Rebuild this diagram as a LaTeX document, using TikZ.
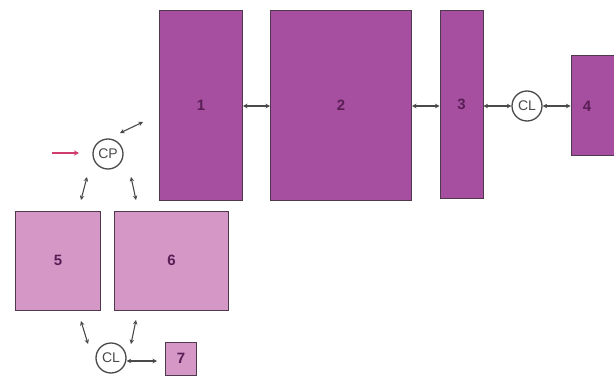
\documentclass[tikz,border=0pt]{standalone}
\usepackage{fontspec}
\setmainfont{Liberation Sans}
\usetikzlibrary{arrows.meta}
\definecolor{darkbox}{HTML}{A64FA0}
\definecolor{lightbox}{HTML}{D497C6}
\definecolor{boxline}{HTML}{4E3A4C}
\definecolor{numtext}{HTML}{5A1E56}
\definecolor{arrowc}{HTML}{4A4A4A}
\definecolor{redarrow}{HTML}{D23C6C}
\tikzset{
  dbox/.style={draw=boxline, line width=1pt, fill=darkbox, inner sep=0pt, text=numtext, font=\fontsize{15}{17}\selectfont\bfseries},
  lbox/.style={draw=boxline, line width=1pt, fill=lightbox, inner sep=0pt, text=numtext, font=\fontsize{15}{17}\selectfont\bfseries},
  circ/.style={circle, draw=arrowc, line width=1.3pt, fill=white, minimum size=30pt, inner sep=0pt, text=arrowc, font=\fontsize{14}{16}\selectfont},
  link/.style={draw=arrowc, line width=1.1pt, {Stealth[length=4.5pt,width=4.5pt]}-{Stealth[length=4.5pt,width=4.5pt]}},
}
\begin{document}
\begin{tikzpicture}[x=1pt,y=-1pt]
\clip (0,0) rectangle (614,380);
\fill[white] (0,0) rectangle (614,380);
% top row
\node[dbox, minimum width=83pt, minimum height=190pt] (b1) at (201,105) {1};
\node[dbox, minimum width=141pt, minimum height=190pt] (b2) at (341,105) {2};
\node[dbox, minimum width=43pt, minimum height=188pt] (b3) at (461.5,104) {\raisebox{-2pt}{3}};
\node[circ] (clr) at (527,106) {CL};
\node[dbox, minimum width=60pt, minimum height=100pt] (b4) at (601,105) {};
\node[text=numtext, font=\fontsize{15}{17}\selectfont\bfseries] (t4) at (587,106) {4};
% left group
\node[circ] (cp) at (108,154) {CP};
\node[lbox, minimum width=85pt, minimum height=99pt] (b5) at (58,260.5) {5};
\node[lbox, minimum width=114pt, minimum height=99pt] (b6) at (171.5,260.5) {6};
\node[circ] (clb) at (111,358) {CL};
\node[lbox, minimum width=31pt, minimum height=33pt] (b7) at (181,358.5) {7};
% connector end points
\coordinate (r0) at (52,153);
\coordinate (r1) at (79,153);
\coordinate (a1) at (120,133);
\coordinate (a2) at (143,122);
\coordinate (c1) at (87,177);
\coordinate (c2) at (81,200);
\coordinate (d1) at (131,177);
\coordinate (d2) at (136,200);
\coordinate (e1) at (81,321);
\coordinate (e2) at (88,344);
\coordinate (f1) at (136,320);
\coordinate (f2) at (131,344);
\coordinate (g2) at (157,361);
% connectors
\draw[link] (b1.east |- 0,106) -- (b2.west |- 0,106);
\draw[link] (b2.east |- 0,106) -- (b3.west |- 0,106);
\draw[link] (b3.east |- clr) -- (clr);
\draw[link] (clr) -- (b4.west |- clr);
\draw[draw=redarrow, line width=1.1pt, -{Stealth[length=5pt,width=5pt]}] (r0) -- (r1);
\draw[link] (a1) -- (a2);
\draw[link] (c1) -- (c2);
\draw[link] (d1) -- (d2);
\draw[link] (e1) -- (e2);
\draw[link] (f1) -- (f2);
\draw[link] (clb.east |- g2) -- (g2);
\end{tikzpicture}
\end{document}
